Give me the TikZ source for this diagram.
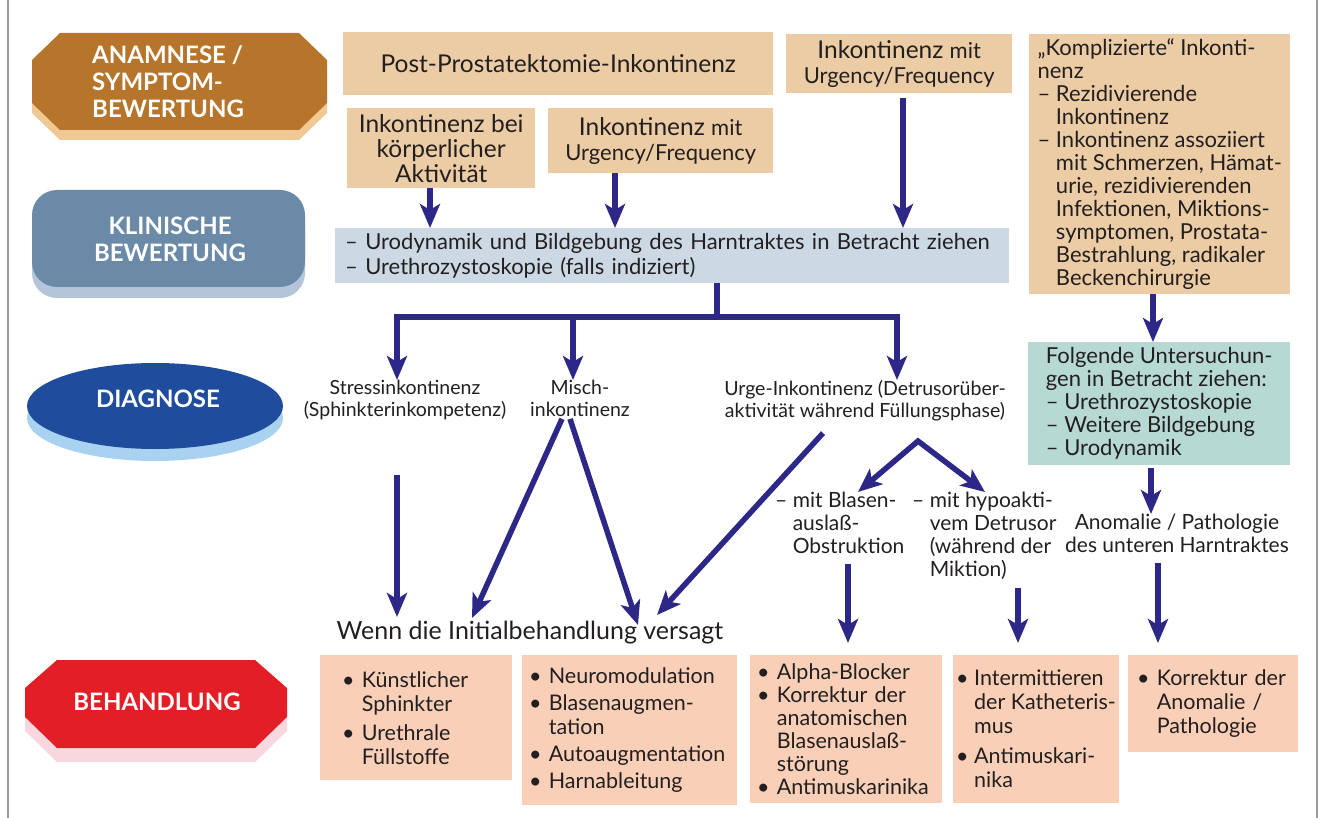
\documentclass[tikz,border=0pt]{standalone}
\usepackage{fontspec}
\usepackage{xcolor}
\setmainfont{Lato}
\usetikzlibrary{arrows.meta,positioning,calc}

\definecolor{arrowc}{RGB}{45,40,135}
\definecolor{tanbg}{RGB}{235,204,164}
\definecolor{bluebg}{RGB}{204,217,228}
\definecolor{tealbg}{RGB}{182,217,212}
\definecolor{salbg}{RGB}{249,207,184}
\definecolor{anamc}{RGB}{182,117,43}
\definecolor{anamsh}{RGB}{240,200,147}
\definecolor{klinc}{RGB}{106,138,167}
\definecolor{klinsh}{RGB}{180,196,217}
\definecolor{diagc}{RGB}{31,76,156}
\definecolor{diagsh}{RGB}{169,209,240}
\definecolor{behc}{RGB}{227,30,38}
\definecolor{behsh}{RGB}{248,215,222}
\definecolor{txtc}{RGB}{35,31,32}

\newcommand{\fTop}{\fontsize{24.5}{25}\selectfont}
\newcommand{\fSub}{\fontsize{22}{25}\selectfont}
\newcommand{\fMid}{\fontsize{22}{23}\selectfont}
\newcommand{\fDia}{\fontsize{19.5}{22}\selectfont}
\newcommand{\fTr}{\fontsize{21.5}{24}\selectfont}
\newcommand{\fLab}{\fontsize{24}{27}\selectfont\bfseries}
\newcommand{\dind}{\phantom{– }}
\newcommand{\bi}{\textbullet~}
\newcommand{\bind}{\phantom{\textbullet~}}

\begin{document}
\begin{tikzpicture}[x=1pt, y=-1pt, >=Stealth,
  tanbox/.style={fill=tanbg, inner sep=4pt, text=txtc, align=center, font=\fTop, anchor=north west},
  bluebox/.style={fill=bluebg, inner xsep=10pt, inner ysep=4pt, text=txtc, align=left, font=\fSub, anchor=north west},
  tealbox/.style={fill=tealbg, inner sep=4pt, text=txtc, align=left, font=\fMid, anchor=north west},
  salbox/.style={fill=salbg, inner ysep=4pt, text=txtc, align=left, font=\fTr, anchor=north west},
  diatext/.style={inner sep=0pt, text=txtc, align=center, font=\fDia},
  subtext/.style={inner sep=0pt, text=txtc, align=left, font=\fontsize{21}{23}\selectfont, anchor=north west},
  labtext/.style={inner sep=0pt, text=white, font=\fLab},
  arr/.style={line width=5.5pt, draw=arrowc, -{Stealth[length=24pt,width=20pt,inset=6pt]}},
  arrboth/.style={line width=5.5pt, draw=arrowc, {Stealth[length=24pt,width=20pt,inset=6pt]}-{Stealth[length=24pt,width=20pt,inset=6pt]}},
  bar/.style={line width=5.5pt, draw=arrowc}]

  \useasboundingbox (0,0) rectangle (1320,818);

  % frame
  \draw[gray!80, line width=2pt] (8,0) -- (8,818);
  \draw[gray!80, line width=2pt] (1317,0) -- (1317,818);

  % stage labels (shadow first)
  \fill[anamsh] (60,43) -- (299,43) -- (327,70) -- (327,113) -- (299,140) -- (60,140) -- (32,113) -- (32,70) -- cycle;
  \fill[anamc] (60,33) -- (299,33) -- (327,60) -- (327,103) -- (299,130) -- (60,130) -- (32,103) -- (32,60) -- cycle;
  \node[labtext, align=left, anchor=north west] (anam) at (92,45) {ANAMNESE /\\SYMPTOM-\\BEWERTUNG};

  \fill[klinsh, rounded corners=25pt] (32,201) rectangle (305,298);
  \fill[klinc, rounded corners=25pt] (32,190) rectangle (305,287);
  \node[labtext, align=center] (klin) at (170,239) {KLINISCHE\\BEWERTUNG};

  \fill[diagsh] (155,418) ellipse [x radius=128, y radius=43];
  \fill[diagc] (155,406) ellipse [x radius=128, y radius=43];
  \node[labtext] (diag) at (158,399) {DIAGNOSE};

  \fill[behsh] (57,674) -- (255,674) -- (287,702) -- (287,731) -- (255,762) -- (57,762) -- (25,731) -- (25,702) -- cycle;
  \fill[behc] (57,660) -- (255,660) -- (287,688) -- (287,717) -- (255,748) -- (57,748) -- (25,717) -- (25,688) -- cycle;
  \node[labtext] (beh) at (157,702) {BEHANDLUNG};

  % history boxes
  \node[tanbox, minimum width=430pt, minimum height=63pt] (post) at (343,32) {Post-Prostatektomie-Inkontinenz};
  \node[tanbox, minimum width=188pt, minimum height=80pt] (bei) at (347,108) {Inkontinenz bei\\körperlicher\\Aktivität};
  \node[tanbox, minimum width=225pt, minimum height=65pt] (urgL) at (548,108) {Inkontinenz {\fSub mit}\\{\fSub Urgency/Frequency}};
  \node[tanbox, minimum width=226pt, minimum height=59pt] (urgR) at (786,34) {Inkontinenz {\fSub mit}\\{\fSub Urgency/Frequency}};
  \node[tanbox, align=left, font=\fMid, minimum width=261pt, minimum height=260pt] (komp) at (1029,34)
    {„Komplizierte“ Inkonti-\\nenz\\– Rezidivierende\\\dind Inkontinenz\\– Inkontinenz assoziiert\\\dind mit Schmerzen, Hämat-\\\dind urie, rezidivierenden\\\dind Infektionen, Miktions-\\\dind symptomen, Prostata-\\\dind Bestrahlung, radikaler\\\dind Beckenchirurgie};

  % clinical evaluation
  \node[bluebox, text width=654pt, minimum height=55pt] (urod) at (335,228)
    {– Urodynamik und Bildgebung des Harntraktes in Betracht ziehen\\– Urethrozystoskopie (falls indiziert)};

  \draw[arr] (430,0 |- bei.south) -- (430,0 |- urod.north);
  \draw[arr] (615,0 |- urgL.south) -- (615,0 |- urod.north);
  \draw[arr, shorten <=5pt] (903,0 |- urgR.south) -- (903,0 |- urod.north);

  % diagnosis
  \node[diatext, anchor=north] (stress) at (405,380) {Stressinkontinenz\\(Sphinkterinkompetenz)};
  \node[diatext, anchor=north] (misch) at (580,380) {Misch-\\inkontinenz};
  \node[diatext, anchor=north] (urge) at (865,380) {Urge-Inkontinenz (Detrusorüber-\\aktivität während Füllungsphase)};
  \node[tealbox, minimum width=262pt, minimum height=123pt] (folg) at (1028,342)
    {Folgende Untersuchun-\\gen in Betracht ziehen:\\– Urethrozystoskopie\\– Weitere Bildgebung\\– Urodynamik};
  \node[subtext] (blasen) at (775,492) {– mit Blasen-\\\dind auslaß-\\\dind Obstruktion};
  \node[subtext] (hypo) at (912,492) {– mit hypoakti-\\\dind vem Detrusor\\\dind (während der\\\dind Miktion)};
  \node[diatext, anchor=north, font=\fontsize{21}{22.5}\selectfont] (anom) at (1177,514) {Anomalie / Pathologie\\des unteren Harntraktes};
  \node[diatext, anchor=north, font=\fontsize{25}{26}\selectfont] (wenn) at (530,621) {Wenn die Initialbehandlung versagt};

  \coordinate (split) at (717,317);
  \draw[bar] (717,0 |- urod.south) -- (split);
  \draw[arr] (split) -| (397,0 |- stress.north);
  \draw[arr] (split) -| (897,0 |- urge.north);
  \draw[arr] (573,0 |- split) -- (573,0 |- misch.north);
  \draw[arr] (1153,0 |- komp.south) -- (1153,0 |- folg.north);
  \draw[arr, shorten <=3pt] (1151,0 |- folg.south) -- (1151,0 |- anom.north);

  % towards "Wenn ..."
  \draw[arr, shorten <=55pt, shorten >=4pt] (397,0 |- stress.south) -- (397,0 |- wenn.north);
  \draw[arr] ($(misch.south)+(-18,2)$) -- ($(wenn.north)+(-58,-3)$);
  \draw[arr] ($(misch.south)+(-10,2)$) -- ($(wenn.north)+(108,4)$);
  \draw[arr] ($(urge.south)+(-42,12)$) -- ($(wenn.north)+(127,-6)$);

  % urge split
  \coordinate (vtop) at ($(urge.south)+(53,20)$);
  \draw[arrboth] (858,0 |- blasen.north) -- (vtop) -- (985,0 |- hypo.north);

  % treatment
  \node[salbox, inner xsep=22pt, text width=148pt, minimum height=125pt] (tr1) at (320,655)
    {\bi Künstlicher\\\bind Sphinkter\\[5pt]\bi Urethrale\\\bind Füllstoffe};
  \node[salbox, inner xsep=7pt, text width=201pt, minimum height=150pt] (tr2) at (522,655)
    {\bi Neuromodulation\\[3pt]\bi Blasenaugmen-\\\bind tation\\[3pt]\bi Autoaugmentation\\[3pt]\bi Harnableitung};
  \node[salbox, font=\fontsize{21.5}{23}\selectfont, inner xsep=7pt, text width=178pt, minimum height=148pt] (tr3) at (750,655)
    {\bi Alpha-Blocker\\\bi Korrektur der\\\bind anatomischen\\\bind Blasenauslaß-\\\bind störung\\\bi Antimuskarinika};
  \node[salbox, inner xsep=3pt, minimum width=164pt, minimum height=148pt] (tr4) at (953,655)
    {\bi Intermittieren\\\bind der Katheteris-\\\bind mus\\[6pt]\bi Antimuskari-\\\bind nika};
  \node[salbox, inner xsep=9pt, text width=152pt, minimum height=97pt] (tr5) at (1128,655)
    {\bi Korrektur der\\\bind Anomalie /\\\bind Pathologie};

  \draw[arr, shorten <=10pt, shorten >=12pt] (848,0 |- blasen.south) -- (848,0 |- tr3.north);
  \draw[arr, shorten <=8pt, shorten >=12pt] (1018,0 |- hypo.south) -- (1018,0 |- tr4.north);
  \draw[arr, shorten <=10pt, shorten >=12pt] (1158,0 |- anom.south) -- (1158,0 |- tr5.north);
\end{tikzpicture}
\end{document}
